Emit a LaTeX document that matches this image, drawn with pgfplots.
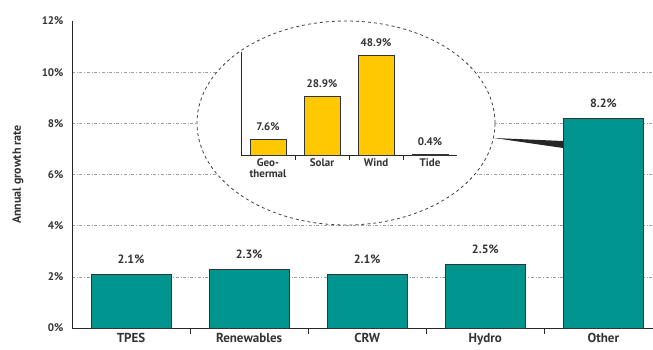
\documentclass[border=0pt]{standalone}
\usepackage{fontspec}
\setmainfont{PT Sans}
\usepackage{pgfplots}
\pgfplotsset{compat=1.18}
\definecolor{tealbar}{RGB}{0,150,143}
\definecolor{goldbar}{RGB}{255,200,0}
\begin{document}
\begin{tikzpicture}[x=1pt,y=1pt]
\useasboundingbox (0,0) rectangle (653,349);
\begin{axis}[at={(72pt,21pt)}, anchor=south west, scale only axis,
  width=581pt, height=307pt,
  xmin=-0.5, xmax=4.42, ymin=0, ymax=12,
  axis lines=left, axis line style={-, thick, black!85},
  /pgf/number format/assume math mode=true,
  ytick={0,2,...,10}, extra y ticks={12}, extra y tick style={grid=none},
  yticklabel={\pgfmathprintnumber{\tick}\%},
  ymajorgrids, grid style={dash dot, gray!75},
  xtick={0,...,4}, xticklabels={TPES,Renewables,CRW,Hydro,Other},
  minor xtick={0.5,1.5,2.5,3.5},
  major tick length=0pt, minor tick length=6pt, tick align=inside,
  minor tick style={thick, black!85},
  yticklabel style={font=\fontsize{11}{12}\selectfont\bfseries, text=black!80, xshift=-5pt},
  xticklabel style={font=\fontsize{13}{14}\selectfont\bfseries, text=black!80, yshift=-2pt},
  ylabel={Annual growth rate},
  every axis y label/.style={at={(axis description cs:-0.093,0.5)}, rotate=90, anchor=center, font=\fontsize{12}{13}\selectfont\bfseries, text=black!80},
  ybar, bar width=80pt,
  nodes near coords={\pgfmathprintnumber[fixed,precision=1]{\pgfplotspointmeta}\%},
  every node near coord/.append style={font=\fontsize{12}{13}\selectfont\bfseries, text=black!80, yshift=7pt},
  clip=false,
]
\addplot[fill=tealbar, draw=black!80, thick] coordinates {(0,2.1) (1,2.3) (2,2.1) (3,2.5) (4,8.2)};
\end{axis}
\draw[dashed, thick, draw=black!75, fill=white] (346,226) ellipse [x radius=149, y radius=102];
\begin{axis}[at={(241pt,194pt)}, anchor=south west, scale only axis,
  width=216pt, height=103pt,
  xmin=-0.5, xmax=3.5, ymin=0, ymax=50.5,
  axis lines=left, axis line style={-, thick, black!85},
  /pgf/number format/assume math mode=true,
  ytick=\empty,
  xtick={0,...,3}, xticklabels={{Geo-\\thermal},Solar,Wind,Tide},
  xticklabel style={align=center, font=\fontsize{11}{11}\selectfont\bfseries, text=black!80},
  minor xtick={0.5,1.5,2.5},
  major tick length=0pt, minor tick length=5pt, tick align=inside,
  minor tick style={thick, black!85},
  ybar, bar width=36pt,
  nodes near coords={\pgfmathprintnumber[fixed,precision=1]{\pgfplotspointmeta}\%},
  every node near coord/.append style={font=\fontsize{11}{12}\selectfont\bfseries, text=black!80, yshift=5pt},
  clip=false,
]
\addplot[fill=goldbar, draw=black!80, thick] coordinates {(0,7.6) (1,28.9) (2,48.9) (3,0.4)};
\end{axis}
\fill[black!85] (494,211) -- (563,208) -- (563,201) -- cycle;
\end{tikzpicture}
\end{document}
